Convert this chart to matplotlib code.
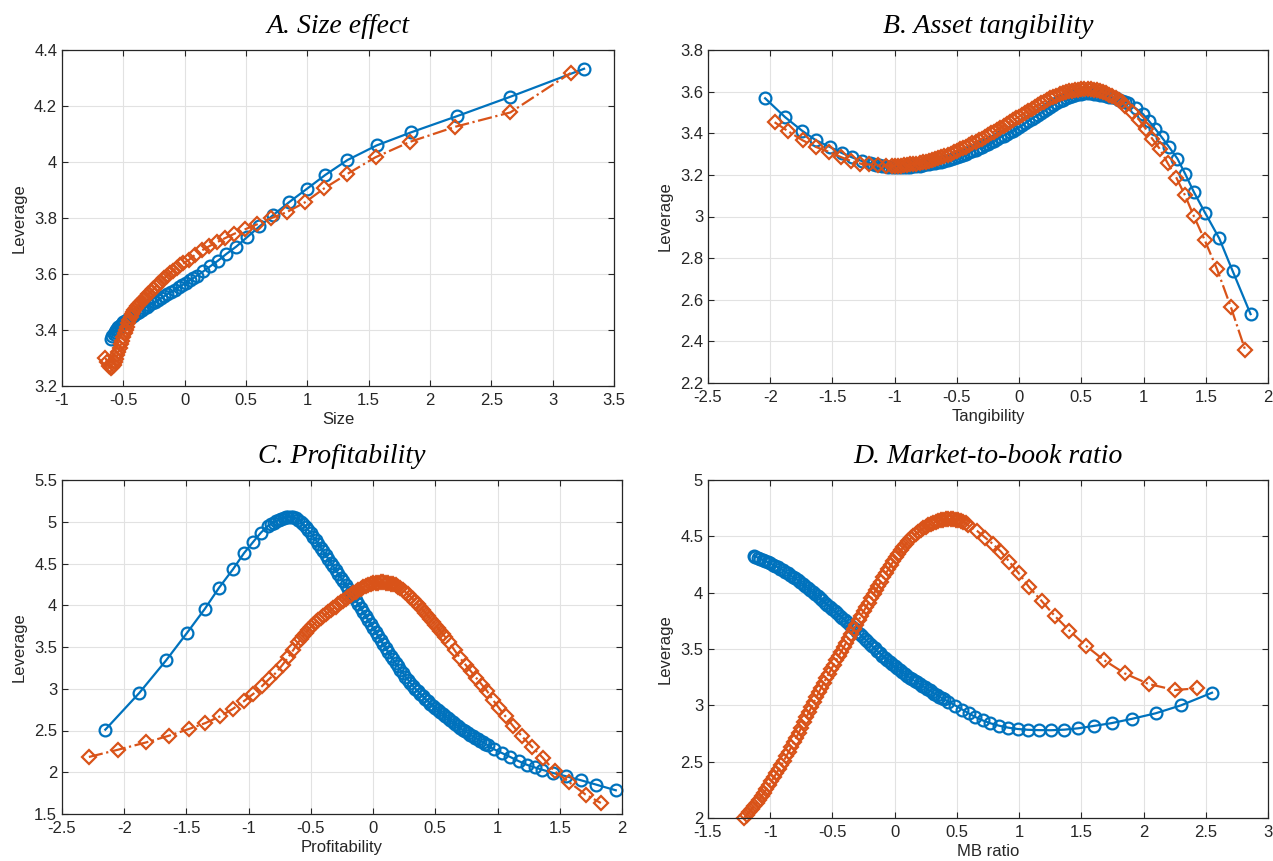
import numpy as np
import matplotlib
matplotlib.use("Agg")
import matplotlib.pyplot as plt
from matplotlib.ticker import FormatStrFormatter

plt.rcParams['font.family'] = ['Liberation Sans', 'DejaVu Sans']

BLUE = '#0072BD'
ORANGE = '#D95319'

# ---- A. Size effect ----
size_x_blue = [-0.600, -0.590, -0.580, -0.570, -0.560, -0.550, -0.540, -0.530, -0.520, -0.510,
               -0.500, -0.485, -0.470, -0.455, -0.440, -0.425, -0.410, -0.390, -0.370, -0.350,
               -0.330, -0.310, -0.290, -0.265, -0.240, -0.215, -0.190, -0.165, -0.140, -0.110,
               -0.080, -0.050, -0.020, 0.010, 0.040, 0.070,
               0.101, 0.151, 0.207, 0.270, 0.341, 0.421, 0.510, 0.610, 0.720, 0.850,
               0.996, 1.147, 1.327, 1.564, 1.846, 2.222, 2.655, 3.256]
size_y_blue = [3.368, 3.378, 3.386, 3.393, 3.399, 3.405, 3.410, 3.415, 3.419, 3.423,
               3.427, 3.432, 3.437, 3.442, 3.446, 3.450, 3.454, 3.460, 3.466, 3.471,
               3.477, 3.482, 3.488, 3.495, 3.501, 3.508, 3.515, 3.521, 3.528, 3.536,
               3.544, 3.552, 3.560, 3.568, 3.577, 3.585,
               3.594, 3.609, 3.627, 3.647, 3.672, 3.698, 3.732, 3.770, 3.810, 3.856,
               3.904, 3.954, 4.007, 4.059, 4.106, 4.164, 4.233, 4.333]
size_x_orange = [-0.646, -0.630, -0.615,
                 -0.600, -0.590, -0.580, -0.570, -0.560, -0.550, -0.540, -0.530, -0.520, -0.510,
                 -0.500, -0.490, -0.480, -0.470, -0.460, -0.450, -0.440, -0.430, -0.420, -0.410,
                 -0.400, -0.385, -0.370, -0.355, -0.340, -0.325, -0.310, -0.295,
                 -0.275, -0.255, -0.235, -0.215, -0.195, -0.170, -0.145, -0.120, -0.095,
                 -0.065, -0.035, -0.010,
                 0.036, 0.086, 0.139, 0.199, 0.261, 0.329, 0.406, 0.495, 0.593, 0.702,
                 0.833, 0.981, 1.138, 1.321, 1.556, 1.837, 2.207, 2.655, 3.147]
size_y_orange = [3.300, 3.285, 3.272,
                 3.266, 3.268, 3.275, 3.285, 3.297, 3.310, 3.323, 3.336, 3.349, 3.362,
                 3.375, 3.388, 3.400, 3.412, 3.425, 3.437, 3.448, 3.457, 3.465, 3.472,
                 3.478, 3.486, 3.493, 3.500, 3.507, 3.514, 3.521, 3.528,
                 3.537, 3.546, 3.555, 3.564, 3.573, 3.584, 3.594, 3.603, 3.612,
                 3.622, 3.632, 3.638,
                 3.651, 3.669, 3.684, 3.699, 3.713, 3.728, 3.744, 3.760, 3.778, 3.799,
                 3.821, 3.856, 3.906, 3.956, 4.017, 4.072, 4.126, 4.177, 4.318]

# ---- B. Asset tangibility ----
tang_x_blue = [-2.041, -1.880, -1.746, -1.632, -1.520, -1.424, -1.342, -1.266,
               -1.200, -1.175, -1.150, -1.125, -1.100, -1.075, -1.050, -1.025,
               -1.000, -0.975, -0.950, -0.925, -0.900, -0.875, -0.850, -0.825,
               -0.800, -0.775, -0.750, -0.725, -0.700, -0.675, -0.650, -0.625,
               -0.600, -0.575, -0.550, -0.525, -0.500, -0.475, -0.450, -0.425,
               -0.400, -0.375, -0.350, -0.325, -0.300, -0.275, -0.250, -0.225,
               -0.200, -0.175, -0.150, -0.125, -0.100, -0.075, -0.050, -0.025,
               0.000, 0.025, 0.050, 0.075, 0.100, 0.125, 0.150, 0.175,
               0.200, 0.225, 0.250, 0.275, 0.300, 0.325, 0.350, 0.375,
               0.400, 0.425, 0.450, 0.475, 0.500, 0.525, 0.550, 0.575,
               0.600, 0.625, 0.650, 0.675, 0.700, 0.725, 0.750, 0.775,
               0.800, 0.825, 0.850,
               0.877, 0.936, 0.994, 1.044, 1.094, 1.146, 1.205, 1.272, 1.336, 1.404,
               1.494, 1.608, 1.716, 1.860]
tang_y_blue = [3.568, 3.477, 3.413, 3.366, 3.334, 3.305, 3.284, 3.267,
               3.256, 3.252, 3.249, 3.246, 3.244, 3.242, 3.240, 3.239,
               3.238, 3.238, 3.238, 3.238, 3.239, 3.240, 3.241, 3.243,
               3.245, 3.247, 3.250, 3.252, 3.255, 3.258, 3.261, 3.264,
               3.268, 3.272, 3.276, 3.281, 3.286, 3.291, 3.297, 3.302,
               3.308, 3.315, 3.321, 3.328, 3.335, 3.342, 3.350, 3.357,
               3.365, 3.373, 3.381, 3.389, 3.397, 3.405, 3.413, 3.422,
               3.430, 3.439, 3.449, 3.458, 3.468, 3.478, 3.488, 3.498,
               3.508, 3.518, 3.527, 3.536, 3.545, 3.553, 3.560, 3.567,
               3.573, 3.578, 3.583, 3.587, 3.590, 3.591, 3.592, 3.591,
               3.590, 3.588, 3.586, 3.583, 3.580, 3.576, 3.572, 3.567,
               3.562, 3.557, 3.552,
               3.545, 3.520, 3.493, 3.458, 3.421, 3.381, 3.334, 3.278, 3.203, 3.118,
               3.018, 2.895, 2.738, 2.531]
tang_x_orange = [-1.965, -1.857, -1.740, -1.632, -1.526, -1.433, -1.351, -1.275, -1.205, -1.135, -1.067,
                 -1.025, -1.000, -0.975, -0.950, -0.925, -0.900, -0.875, -0.850,
                 -0.825, -0.800, -0.775, -0.750, -0.725, -0.700, -0.675, -0.650,
                 -0.625, -0.600, -0.575, -0.550, -0.525, -0.500, -0.475, -0.450,
                 -0.425, -0.400, -0.375, -0.350, -0.325, -0.300, -0.275, -0.250,
                 -0.225, -0.200, -0.175, -0.150, -0.125, -0.100, -0.075, -0.050,
                 -0.025, 0.000, 0.025, 0.050, 0.075, 0.100, 0.125, 0.150,
                 0.175, 0.200, 0.225, 0.250, 0.275, 0.300, 0.325, 0.350,
                 0.375, 0.400, 0.425, 0.450, 0.475, 0.500, 0.525, 0.550,
                 0.575, 0.600, 0.625, 0.650, 0.675, 0.700, 0.725, 0.750,
                 0.775, 0.800, 0.825,
                 0.854, 0.906, 0.965, 1.018, 1.070, 1.129, 1.193, 1.263, 1.333, 1.404,
                 1.491, 1.591, 1.702, 1.816]
tang_y_orange = [3.453, 3.410, 3.366, 3.334, 3.310, 3.286, 3.267, 3.254, 3.250, 3.246, 3.244,
                 3.243, 3.243, 3.244, 3.245, 3.246, 3.248, 3.250, 3.252,
                 3.254, 3.257, 3.260, 3.263, 3.266, 3.270, 3.275, 3.280,
                 3.285, 3.290, 3.296, 3.302, 3.308, 3.315, 3.322, 3.329,
                 3.336, 3.343, 3.351, 3.358, 3.366, 3.374, 3.382, 3.391,
                 3.399, 3.408, 3.417, 3.426, 3.435, 3.444, 3.453, 3.462,
                 3.471, 3.480, 3.489, 3.499, 3.508, 3.517, 3.526, 3.535,
                 3.544, 3.552, 3.560, 3.567, 3.574, 3.581, 3.587, 3.592,
                 3.597, 3.601, 3.605, 3.608, 3.610, 3.612, 3.613, 3.613,
                 3.612, 3.610, 3.607, 3.603, 3.598, 3.593, 3.586, 3.579,
                 3.571, 3.562, 3.550,
                 3.533, 3.501, 3.464, 3.421, 3.373, 3.326, 3.257, 3.187, 3.102, 3.002,
                 2.887, 2.746, 2.564, 2.360]

# ---- C. Profitability ----
prof_x_blue = [-2.152, -1.880, -1.664, -1.497, -1.354, -1.237, -1.126, -1.038, -0.962, -0.901, -0.845,
               -0.82, -0.80, -0.78, -0.76, -0.74, -0.72, -0.70, -0.68,
               -0.66, -0.64, -0.62, -0.60, -0.58, -0.56, -0.54, -0.52,
               -0.50, -0.48, -0.46, -0.44, -0.42, -0.40, -0.38, -0.36,
               -0.34, -0.32, -0.30, -0.28, -0.26, -0.24, -0.22, -0.20,
               -0.18, -0.16, -0.14, -0.12, -0.10, -0.08, -0.06, -0.04,
               -0.02, 0.00, 0.02, 0.04, 0.06, 0.08, 0.10, 0.12,
               0.14, 0.16, 0.18, 0.20, 0.22, 0.24, 0.26, 0.28,
               0.30, 0.32, 0.34, 0.36, 0.38, 0.40, 0.42, 0.44,
               0.46, 0.48, 0.50, 0.52, 0.54, 0.56, 0.58, 0.60,
               0.62, 0.64, 0.66, 0.68, 0.70, 0.72, 0.74, 0.76,
               0.78, 0.80, 0.82, 0.84, 0.86, 0.88, 0.90, 0.92,
               0.968, 1.035, 1.102, 1.173, 1.240, 1.298, 1.357, 1.447, 1.553, 1.670, 1.792, 1.950]
prof_y_blue = [2.510, 2.948, 3.339, 3.666, 3.953, 4.212, 4.431, 4.623, 4.762, 4.870, 4.950,
               4.972, 4.990, 5.006, 5.022, 5.036, 5.047, 5.054, 5.058,
               5.057, 5.052, 5.042, 5.026, 5.002, 4.970, 4.934, 4.898,
               4.862, 4.820, 4.777, 4.733, 4.689, 4.645, 4.600, 4.555,
               4.510, 4.465, 4.420, 4.376, 4.332, 4.288, 4.244, 4.200,
               4.153, 4.106, 4.059, 4.012, 3.965, 3.917, 3.869, 3.821,
               3.774, 3.726, 3.678, 3.630, 3.582, 3.534, 3.486, 3.441,
               3.397, 3.354, 3.310, 3.267, 3.226, 3.186, 3.146, 3.107,
               3.068, 3.034, 3.001, 2.970, 2.939, 2.908, 2.879, 2.851,
               2.823, 2.796, 2.769, 2.745, 2.721, 2.697, 2.673, 2.649,
               2.625, 2.601, 2.578, 2.554, 2.530, 2.510, 2.490, 2.470,
               2.450, 2.430, 2.412, 2.395, 2.377, 2.360, 2.342, 2.325,
               2.278, 2.230, 2.183, 2.131, 2.087, 2.058, 2.031, 1.991, 1.951, 1.904, 1.852, 1.784]
prof_x_orange = [-2.284, -2.050, -1.822, -1.640, -1.480, -1.348, -1.231, -1.129, -1.041,
                 -0.962, -0.895, -0.836, -0.778, -0.728, -0.681, -0.640, -0.602,
                 -0.58, -0.56, -0.54, -0.52, -0.50, -0.48, -0.46, -0.44,
                 -0.42, -0.40, -0.38, -0.36, -0.34, -0.32, -0.30, -0.28,
                 -0.26, -0.24, -0.22, -0.20, -0.18, -0.16, -0.14, -0.12,
                 -0.10, -0.08, -0.06, -0.04, -0.02, 0.00, 0.02, 0.04,
                 0.06, 0.08, 0.10, 0.12, 0.14, 0.16, 0.18, 0.20,
                 0.22, 0.24, 0.26, 0.28, 0.30, 0.32, 0.34, 0.36,
                 0.38, 0.40, 0.42, 0.44, 0.46, 0.48, 0.50, 0.52,
                 0.54, 0.56, 0.58,
                 0.611, 0.655, 0.699, 0.743, 0.787, 0.830, 0.874, 0.918, 0.962, 1.012,
                 1.064, 1.123, 1.196, 1.278, 1.365, 1.459, 1.576, 1.708, 1.830]
prof_y_orange = [2.183, 2.270, 2.358, 2.438, 2.518, 2.589, 2.669, 2.757, 2.848,
                 2.940, 3.028, 3.116, 3.195, 3.287, 3.379, 3.467, 3.554,
                 3.597, 3.636, 3.673, 3.707, 3.740, 3.769, 3.797, 3.823,
                 3.847, 3.870, 3.893, 3.916, 3.939, 3.962, 3.985, 4.009,
                 4.033, 4.056, 4.078, 4.100, 4.121, 4.142, 4.162, 4.181,
                 4.200, 4.216, 4.231, 4.244, 4.254, 4.262, 4.268, 4.272,
                 4.274, 4.274, 4.272, 4.266, 4.259, 4.250, 4.238, 4.224,
                 4.204, 4.182, 4.158, 4.132, 4.104, 4.074, 4.044, 4.012,
                 3.979, 3.945, 3.910, 3.873, 3.837, 3.802, 3.766, 3.730,
                 3.693, 3.656, 3.618,
                 3.556, 3.460, 3.367, 3.287, 3.207, 3.128, 3.048, 2.968, 2.868, 2.769,
                 2.669, 2.557, 2.430, 2.302, 2.171, 2.011, 1.880, 1.732, 1.632]

# ---- D. Market-to-book ratio ----
mb_x_blue = [-1.129,
             -1.12, -1.10, -1.08, -1.06, -1.04, -1.02, -1.00, -0.98,
             -0.96, -0.94, -0.92, -0.90, -0.88, -0.86, -0.84, -0.82,
             -0.80, -0.78, -0.76, -0.74, -0.72, -0.70, -0.68, -0.66,
             -0.64, -0.62, -0.60, -0.58, -0.56, -0.54, -0.52, -0.50,
             -0.48, -0.46, -0.44, -0.42, -0.40, -0.38, -0.36, -0.34,
             -0.32, -0.30, -0.28, -0.26, -0.24, -0.22, -0.20, -0.18,
             -0.16, -0.14, -0.12, -0.10, -0.08, -0.06, -0.04, -0.02,
             0.00, 0.02, 0.04, 0.06, 0.08, 0.10, 0.12, 0.14,
             0.16, 0.18, 0.20, 0.22, 0.24, 0.26, 0.28, 0.30,
             0.32, 0.34, 0.36, 0.38, 0.40,
             0.430, 0.488, 0.544, 0.596, 0.649, 0.708, 0.769, 0.836, 0.912, 0.988,
             1.070, 1.158, 1.254, 1.363, 1.474, 1.599, 1.743, 1.906, 2.096, 2.301, 2.550]
mb_y_blue = [4.325,
             4.320, 4.312, 4.302, 4.292, 4.281, 4.271, 4.260, 4.249,
             4.237, 4.225, 4.213, 4.200, 4.186, 4.172, 4.157, 4.142,
             4.127, 4.111, 4.094, 4.077, 4.060, 4.042, 4.024, 4.006,
             3.987, 3.969, 3.950, 3.931, 3.912, 3.893, 3.874, 3.855,
             3.835, 3.816, 3.796, 3.777, 3.757, 3.736, 3.716, 3.695,
             3.675, 3.654, 3.633, 3.612, 3.590, 3.569, 3.548, 3.526,
             3.505, 3.483, 3.462, 3.440, 3.421, 3.402, 3.383, 3.364,
             3.345, 3.328, 3.312, 3.295, 3.279, 3.262, 3.247, 3.232,
             3.217, 3.203, 3.188, 3.174, 3.160, 3.146, 3.132, 3.118,
             3.105, 3.092, 3.078, 3.065, 3.052,
             3.034, 2.998, 2.962, 2.928, 2.896, 2.866, 2.841, 2.820, 2.802, 2.790,
             2.783, 2.780, 2.779, 2.784, 2.796, 2.817, 2.842, 2.880, 2.929, 3.000, 3.112]
mb_x_orange = [-1.208,
               -1.19, -1.17, -1.15, -1.13, -1.11, -1.09, -1.07, -1.05,
               -1.03, -1.01, -0.99, -0.97, -0.95, -0.93, -0.91, -0.89,
               -0.87, -0.85, -0.83, -0.81, -0.79, -0.77, -0.75, -0.73,
               -0.71, -0.69, -0.67, -0.65, -0.63, -0.61, -0.59, -0.57,
               -0.55, -0.53, -0.51, -0.49, -0.47, -0.45, -0.43, -0.41,
               -0.39, -0.37, -0.35, -0.33, -0.31, -0.29, -0.27, -0.25,
               -0.23, -0.21, -0.19, -0.17, -0.15, -0.13, -0.11, -0.09,
               -0.07, -0.05, -0.03, -0.01, 0.01, 0.03, 0.05, 0.07,
               0.09, 0.11, 0.13, 0.15, 0.17, 0.19, 0.21, 0.23,
               0.25, 0.27, 0.29, 0.31, 0.33, 0.35, 0.37, 0.39,
               0.41, 0.43, 0.45, 0.47, 0.49, 0.51, 0.53, 0.55, 0.57,
               0.591, 0.664, 0.728, 0.789, 0.854, 0.921, 0.997, 1.082, 1.181, 1.287,
               1.404, 1.535, 1.681, 1.848, 2.041, 2.251, 2.433]
mb_y_orange = [2.003,
               2.026, 2.052, 2.079, 2.105, 2.132, 2.161, 2.194, 2.226,
               2.259, 2.292, 2.326, 2.361, 2.398, 2.435, 2.472, 2.510,
               2.550, 2.590, 2.631, 2.672, 2.714, 2.758, 2.803, 2.848,
               2.893, 2.937, 2.982, 3.026, 3.070, 3.114, 3.157, 3.199,
               3.240, 3.280, 3.320, 3.360, 3.399, 3.438, 3.477, 3.516,
               3.556, 3.596, 3.636, 3.676, 3.715, 3.755, 3.794, 3.833,
               3.872, 3.911, 3.949, 3.987, 4.024, 4.061, 4.099, 4.136,
               4.172, 4.208, 4.244, 4.280, 4.314, 4.345, 4.375, 4.404,
               4.432, 4.458, 4.481, 4.502, 4.521, 4.538, 4.556, 4.571,
               4.585, 4.598, 4.609, 4.620, 4.628, 4.636, 4.642, 4.647,
               4.650, 4.652, 4.653, 4.652, 4.649, 4.645, 4.638, 4.629, 4.618,
               4.598, 4.547, 4.488, 4.432, 4.364, 4.275, 4.172, 4.047, 3.926, 3.793,
               3.663, 3.530, 3.402, 3.284, 3.189, 3.136, 3.151]

titles = ['A. Size effect', 'B. Asset tangibility', 'C. Profitability', 'D. Market-to-book ratio']
xlabels = ['Size', 'Tangibility', 'Profitability', 'MB ratio']
xticks = [np.arange(-1, 3.51, 0.5), np.arange(-2.5, 2.01, 0.5),
          np.arange(-2.5, 2.01, 0.5), np.arange(-1.5, 3.01, 0.5)]
yticks = [np.arange(3.2, 4.41, 0.2), np.arange(2.2, 3.81, 0.2),
          np.arange(1.5, 5.51, 0.5), np.arange(2.0, 5.01, 0.5)]

panels = [(size_x_blue, size_y_blue, size_x_orange, size_y_orange),
          (tang_x_blue, tang_y_blue, tang_x_orange, tang_y_orange),
          (prof_x_blue, prof_y_blue, prof_x_orange, prof_y_orange),
          (mb_x_blue, mb_y_blue, mb_x_orange, mb_y_orange)]

# axes rectangles in pixels: left, top, right, bottom
W, H = 1273, 861
boxes = [(62, 50, 614, 386), (708, 50, 1268, 383),
         (62, 480, 622, 814), (708, 480, 1268, 818)]

fig = plt.figure(figsize=(W / 100, H / 100), dpi=100)

for i, (xb, yb, xo, yo) in enumerate(panels):
    l, t, r, b = boxes[i]
    ax = fig.add_axes([l / W, 1 - b / H, (r - l) / W, (b - t) / H])
    ax.plot(xb, yb, '-', color=BLUE, lw=1.6, marker='o', ms=8.5, mfc='none',
            mew=1.6, clip_on=False)
    ax.plot(xo, yo, '-.', color=ORANGE, lw=1.6, marker='D', ms=6.8, mfc='none',
            mew=1.6, clip_on=False)
    ax.set_xlim(xticks[i][0], xticks[i][-1])
    ax.set_ylim(yticks[i][0], yticks[i][-1])
    ax.set_xticks(xticks[i])
    ax.set_yticks(yticks[i])
    ax.xaxis.set_major_formatter(FormatStrFormatter('%g'))
    ax.yaxis.set_major_formatter(FormatStrFormatter('%g'))
    ax.grid(True, color='#e2e2e2', lw=0.8)
    ax.set_axisbelow(True)
    ax.tick_params(direction='in', top=True, right=True, length=4, width=0.8,
                   color='#262626', labelsize=12, labelcolor='#262626')
    ax.tick_params(axis='x', pad=5)
    ax.tick_params(axis='y', pad=3.5)
    for s in ax.spines.values():
        s.set_color('#262626')
        s.set_linewidth(0.9)
    ax.set_xlabel(xlabels[i], fontsize=12, color='#262626', labelpad=3)
    ax.set_ylabel('Leverage', fontsize=12, color='#262626', labelpad=5)
    ax.set_title(titles[i], family=['Liberation Serif'], style='italic',
                 fontsize=20, pad=12)

plt.savefig('out.png', dpi=100)
